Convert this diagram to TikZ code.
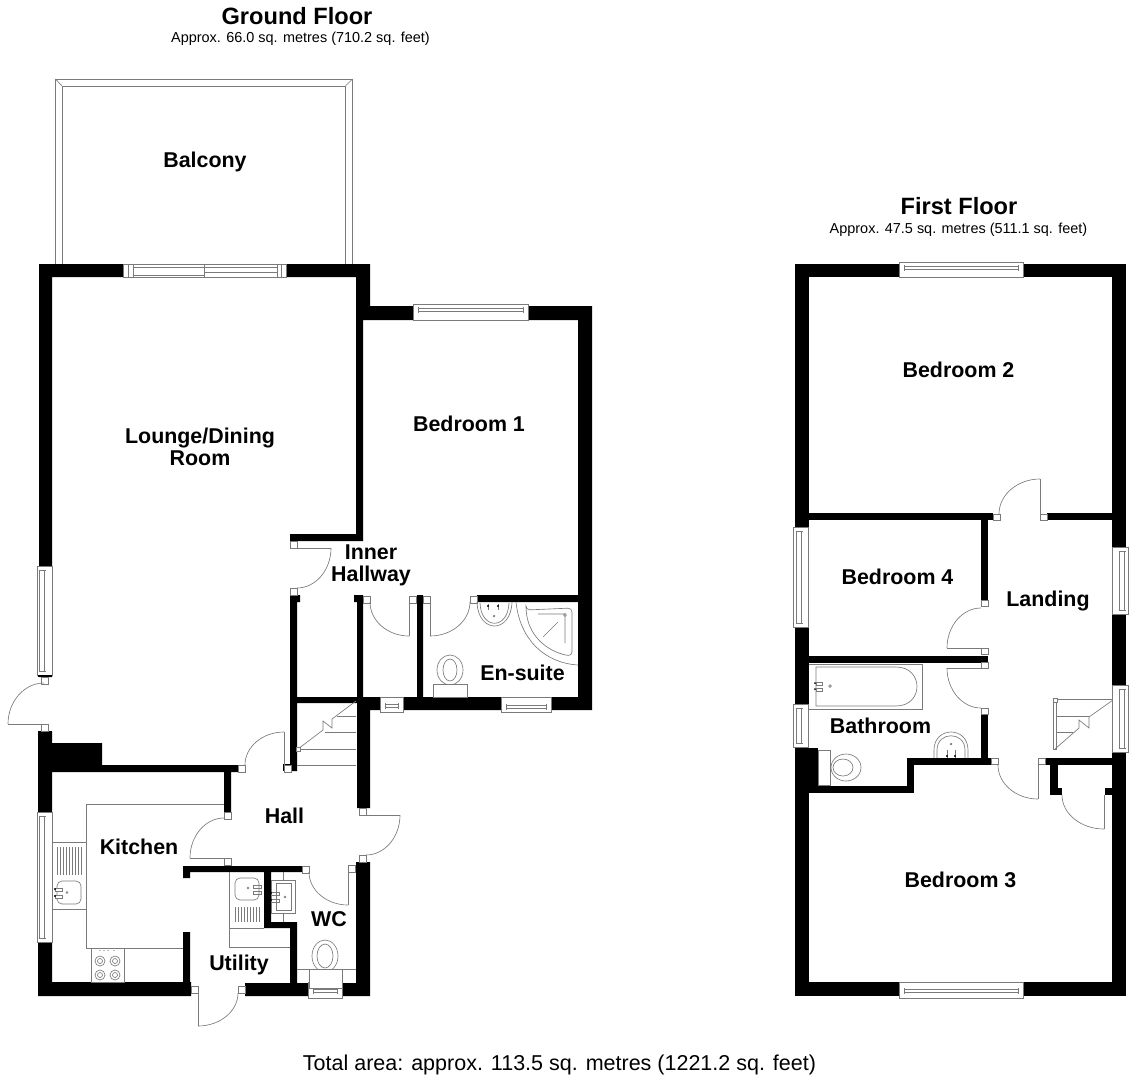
\documentclass[tikz,border=0pt]{standalone}
\usepackage{fontspec}
\setmainfont{Liberation Sans}
\definecolor{fitgray}{gray}{0.48}
\tikzset{
    wall/.style={fill=black},
    fitting/.style={draw=fitgray, line width=0.65pt},
    sash/.style={draw=fitgray, fill=white, line width=0.65pt},
    roomlabel/.style={font=\bfseries\fontsize{21.4}{22}\selectfont, align=center, inner sep=0pt},
    floorlabel/.style={font=\bfseries\fontsize{23.6}{24}\selectfont, inner sep=0pt},
    arealabel/.style={font=\fontsize{14.45}{15}\selectfont, inner sep=0pt}
}
% door seen from above: top end of the swing, side end of the swing
\newcommand{\swingcurve}[4]{
    \draw[fitting] (#1,#2) .. controls ({#1+0.55*(#3-#1)},#2) and (#3,{#4-0.55*(#4-#2)}) .. (#3,#4);
}
% leaf lying sideways
\newcommand{\doorflat}[4]{
    \swingcurve{#1}{#2}{#3}{#4}
    \draw[fitting] (#3,#4) -- (#1,#4);
}
% leaf standing upright
\newcommand{\doorupright}[4]{
    \swingcurve{#1}{#2}{#3}{#4}
    \draw[fitting] (#1,#2) -- (#1,#4);
}
% windows across a wall: corners, then where the glass runs
\newcommand{\hwindow}[5]{
    \draw[sash] (#1,#2) rectangle (#3,#4);
    \draw[fitting] ({#1+5},{#5-1.5}) -- ({#3-5},{#5-1.5}) ({#1+5},{#5+1.5}) -- ({#3-5},{#5+1.5});
    \draw[fitting] ({#1+5},{#5-3}) -- ({#1+5},{#5+3}) ({#3-5},{#5-3}) -- ({#3-5},{#5+3});
}
\newcommand{\vwindow}[5]{
    \draw[sash] (#1,#2) rectangle (#3,#4);
    \draw[fitting] ({#5-2.5},{#2+4}) -- ({#5-2.5},{#4-4}) ({#5+2.5},{#2+4}) -- ({#5+2.5},{#4-4});
    \draw[fitting] ({#5-3.5},{#2+4}) -- ({#5+3.5},{#2+4}) ({#5-3.5},{#4-4}) -- ({#5+3.5},{#4-4});
}
\begin{document}
\begin{tikzpicture}[x=1pt, y=-1pt]
    \useasboundingbox (0,0) rectangle (1136,1080);

    % titles
    \node[floorlabel] (groundtitle) at (297,16) {Ground Floor};
    \node[arealabel] (groundarea) at (300.5,38.5) {Approx. 66.0 sq. metres (710.2 sq. feet)};
    \node[floorlabel] (firsttitle) at (959,206) {First Floor};
    \node[arealabel] (firstarea) at (958.5,229.5) {Approx. 47.5 sq. metres (511.1 sq. feet)};
    \node[inner sep=0pt, font=\fontsize{21.5}{22}\selectfont] (totalarea) at (559.5,1065) {Total area: approx. 113.5 sq. metres (1221.2 sq. feet)};

    % balcony
    \draw[fitting] (55.5,264) -- (55.5,79) -- (352.5,79) -- (352.5,264);
    \draw[fitting] (62,264) -- (62,86) -- (345.5,86) -- (345.5,264);
    \draw[fitting] (55.5,79) -- (62,86);
    \draw[fitting] (352.5,79) -- (345.5,86);

    % ground floor walls
    \fill[wall] (39,264) -- (370,264) -- (370,306) -- (592,306) -- (592,710) -- (370,710) -- (370,808) -- (357,808) -- (357,703) -- (297,703) -- (297,771) -- (290,771) -- (290,595) -- (300,595) -- (300,602) -- (297,602) -- (297,697) -- (357,697) -- (357,602) -- (354,602) -- (354,595) -- (363,595) -- (363,697) -- (417,697) -- (417,595) -- (423,595) -- (423,697) -- (578,697) -- (578,602) -- (477,602) -- (477,595) -- (578,595) -- (578,320) -- (363,320) -- (363,541) -- (290,541) -- (290,534) -- (356,534) -- (356,277) -- (52,277) -- (52,677) -- (39,677) -- cycle;
    \fill[wall] (38,731) -- (52,731) -- (52,743) -- (102,743) -- (102,765) -- (238,765) -- (238,772) -- (231,772) -- (231,812) -- (224,812) -- (224,772) -- (52,772) -- (52,982) -- (183,982) -- (183,932) -- (190,932) -- (190,982) -- (191,982) -- (191,996) -- (38,996) -- cycle;
    \fill[wall] (183,866) -- (302,866) -- (302,872) -- (271,872) -- (271,922) -- (297,922) -- (297,983) -- (356,983) -- (356,862) -- (370,862) -- (370,996) -- (245,996) -- (245,983) -- (290,983) -- (290,928) -- (264,928) -- (264,872) -- (190,872) -- (190,878) -- (183,878) -- cycle;
    \fill[wall] (283,764) rectangle (297,771);

    % ground floor windows
    \draw[sash] (123,264) rectangle (286,277);
    \draw[fitting] (128,264) -- (128,277) (133,264) -- (133,277) (204,264) -- (204,277) (277,264) -- (277,277) (281,264) -- (281,277);
    \draw[fitting] (133,267) -- (277,267) (133,275) -- (204,275) (204,272) -- (277,272);
    \hwindow{413}{304}{528}{320}{309.5}
    \vwindow{37}{566}{52}{675}{42}
    \vwindow{37}{812}{52}{942}{42}
    \hwindow{380}{697}{403}{712}{706}
    \hwindow{501}{697}{551}{712}{706.5}
    \hwindow{308}{982}{342}{998}{991}
    \fill[wall] (38,675) rectangle (52,677);

    % door jambs, ground floor
    \foreach \jx/\jy in {41/677, 41/724, 238/765, 284/765, 224/812, 224/858, 290/541, 290/588, 363/596, 409/596, 423/596, 470/596, 359/808, 359/855, 302/866, 348/865, 191/986, 238/986} {
        \draw[sash] (\jx,\jy) rectangle ({\jx+7},{\jy+7});
    }

    % doors, ground floor
    \doorflat{44}{683}{8}{724}
    \doorflat{297}{588}{331}{548}
    \doorupright{409}{636}{370}{602}
    \doorupright{430}{636}{470}{602}
    \doorupright{284}{732}{245}{765}
    \doorflat{224}{818}{190}{858}
    \doorflat{366}{855}{400}{815}
    \doorupright{348}{905}{309}{872}
    \doorupright{198}{1026}{238}{993}

    % stairs, ground floor
    \draw[fitting] (337,716) -- (356,716) (325,732) -- (356,732) (297,749) -- (356,749) (297,765) -- (356,765);
    \draw[fitting] (356,701) -- (332,719) -- (332,728) -- (323,721) -- (323,730) -- (298,749);
    \draw[sash] (296,747) rectangle (300,751);

    % kitchen fittings
    \draw[fitting] (224,804) -- (86,804) -- (86,948) -- (183,948);
    \draw[fitting] (52,842) -- (86,842) (52,909) -- (86,909);
    \foreach \dx in {57,60,...,81} {
        \draw[fitting] (\dx,847) -- (\dx,875);
    }
    \draw[fitting, rounded corners=5pt] (57,881) rectangle (81,904);
    \filldraw[fitting, fill=white] (55,888) rectangle (62,891) (55,895) rectangle (62,898);
    \fill (55,889) circle (1.2pt) (55,896) circle (1.2pt);
    \draw[fitting] (67,892.5) circle (1pt);
    \draw[fitting] (91,948) rectangle (124,982);
    \foreach \rx/\ry in {100/961, 115/961, 100/975, 115/975} {
        \draw[fitting] (\rx,\ry) circle (5pt);
        \draw[fitting] (\rx,\ry) circle (2.5pt);
    }
    \foreach \rx in {100,104,108,114} {
        \fill[fitgray] (\rx,950.5) circle (0.7pt);
    }

    % utility and wc fittings
    \draw[fitting] (229,872) -- (229,947) -- (290,947) (229,928) -- (264,928);
    \draw[fitting, rounded corners=5pt] (235,878) rectangle (259,900);
    \draw[fitting] (253,885) rectangle (261,888) (253,891) rectangle (261,894);
    \foreach \dx in {235,238,...,259} {
        \draw[fitting] (\dx,907) -- (\dx,922);
    }
    \draw[fitting] (248,888) circle (1pt);
    \draw[fitting] (271,880) rectangle (295,913) (276,883) rectangle (291,910);
    \draw[fitting] (283,872) -- (283,880) (283,913) -- (283,922);
    \draw[fitting] (271,892) rectangle (279,895) (271,899) rectangle (279,902);
    \fill (271,893) circle (1.2pt) (271,900) circle (1.2pt);
    \draw[fitting] (285,897) circle (1pt);
    \draw[fitting] (297,969) -- (356,969);
    \draw[fitting] (325,956) ellipse (13pt and 16pt) (325,956) ellipse (8pt and 12pt);
    \draw[sash] (309,969) rectangle (342,988);

    % en-suite fittings
    \draw[fitting] (450,670) ellipse (13pt and 15pt) (450,670) ellipse (7pt and 11pt);
    \draw[sash] (433,684) rectangle (467,697);
    \draw[fitting] (477,602) .. controls (478,634) and (511,634) .. (512,602);
    \draw[fitting] (480,603) .. controls (481,630) and (508,630) .. (509,603);
    \draw[fitting] (488,604) -- (488,610) (498,604) -- (498,610);
    \fill (488,606) circle (1.2pt) (498,606) circle (1.2pt);
    \draw[fitting] (494,616) circle (0.8pt);
    \draw[fitting] (516,602) .. controls (520,640) and (545,663) .. (578,665);
    \draw[fitting, rounded corners=4pt] (526,610) -- (572,608) -- (572,656) .. controls (552,653) and (530,640) .. cycle;
    \draw[fitting] (538,614) -- (565,614) -- (565,643) (543,637) -- (558,622);
    \draw[fitting] (565,615) circle (1.5pt);

    % first floor walls
    \fill[wall] (795,264) rectangle (1126,277);
    \fill[wall] (795,264) rectangle (809,996);
    \fill[wall] (1112,264) rectangle (1126,996);
    \fill[wall] (795,982) rectangle (1126,996);
    \fill[wall] (808,513) rectangle (993,520);
    \fill[wall] (1047,513) rectangle (1112,520);
    \fill[wall] (981,520) rectangle (988,600);
    \fill[wall] (808,656) rectangle (988,663);
    \fill[wall] (981,714) rectangle (988,765);
    \fill[wall] (907,758) rectangle (991,765);
    \fill[wall] (907,758) rectangle (914,793);
    \fill[wall] (808,786) rectangle (914,793);
    \fill[wall] (808,748) rectangle (818,793);
    \fill[wall] (1045,758) rectangle (1112,765);
    \fill[wall] (1050,765) rectangle (1058,795);
    \fill[wall] (1050,788) rectangle (1062,795);
    \fill[wall] (1105,788) rectangle (1112,795);

    % first floor windows
    \hwindow{899}{262}{1023}{277}{268}
    \hwindow{899}{982}{1023}{998}{990.5}
    \vwindow{793}{527}{808}{627}{799}
    \vwindow{793}{704}{808}{747}{799}
    \vwindow{1112}{547}{1128}{614}{1122}
    \vwindow{1112}{685}{1128}{752}{1122}

    % door jambs, first floor
    \foreach \jx/\jy in {993/514, 1040/514, 981/600, 981/648, 981/662, 981/708, 991/758, 1038/758} {
        \draw[sash] (\jx,\jy) rectangle ({\jx+7},{\jy+6});
    }

    % doors, first floor
    \doorupright{1040}{479}{999}{514}
    \doorflat{981}{608}{947}{648}
    \doorflat{981}{708}{947}{668}
    \doorupright{1038}{799}{998}{765}
    \doorupright{1104}{829}{1062}{795}

    % stairs, first floor
    \draw[fitting] (1053,699) rectangle (1056,749);
    \draw[fitting] (1053,699) -- (1112,699) (1056,716) -- (1089,716) (1056,732) -- (1073,732);
    \draw[fitting] (1113,700) -- (1089,717) -- (1089,728) -- (1079,720) -- (1079,728) -- (1055,749);
    \draw[sash] (1053,698) rectangle (1057,702);

    % bathroom fittings
    \draw[fitting] (809,664) -- (922,664) -- (922,709.5) -- (809,709.5);
    \draw[fitting] (816,667) -- (896,667) .. controls (924,667) and (924,706) .. (896,706) -- (816,706) -- cycle;
    \draw[fitting] (816,682) rectangle (822,685) (816,688) rectangle (822,691);
    \fill (815,683) circle (1pt) (815,689) circle (1pt);
    \draw[fitting] (830,686) circle (1.3pt);
    \draw[sash] (818,750) rectangle (830,785);
    \draw[fitting] (846,767.5) ellipse (15pt and 13.5pt) (843,767.5) ellipse (10pt and 8.5pt);
    \draw[fitting] (934,758) -- (934,750) .. controls (934,726) and (968,726) .. (968,750) -- (968,758);
    \draw[fitting] (937,758) -- (937,750) .. controls (937,731) and (965,731) .. (965,750) -- (965,758);
    \draw[fitting] (947,750) -- (947,758) (955,750) -- (955,758);
    \fill (947,756) circle (1.2pt) (955,756) circle (1.2pt);
    \draw[fitting] (951,744) circle (0.8pt);

    % room names
    \node[roomlabel] (balcony) at (205,162) {Balcony};
    \node[roomlabel] (lounge) at (200,447) {Lounge/Dining\\Room};
    \node[roomlabel] (bedroomone) at (469,424) {Bedroom 1};
    \node[roomlabel] (innerhall) at (371,565.5) {Inner\\Hallway};
    \node[roomlabel] (ensuite) at (522.5,673) {En-suite};
    \node[roomlabel] (kitchen) at (139,847) {Kitchen};
    \node[roomlabel] (hall) at (284.5,816) {Hall};
    \node[roomlabel] (wc) at (329,919) {WC};
    \node[roomlabel] (utility) at (239,965) {Utility};
    \node[roomlabel] (bedroomtwo) at (958.5,370) {Bedroom 2};
    \node[roomlabel] (bedroomfour) at (897.5,577) {Bedroom 4};
    \node[roomlabel] (landing) at (1048,601) {Landing};
    \node[roomlabel] (bathroom) at (880.5,726) {Bathroom};
    \node[roomlabel] (bedroomthree) at (960.5,880) {Bedroom 3};
\end{tikzpicture}
\end{document}
